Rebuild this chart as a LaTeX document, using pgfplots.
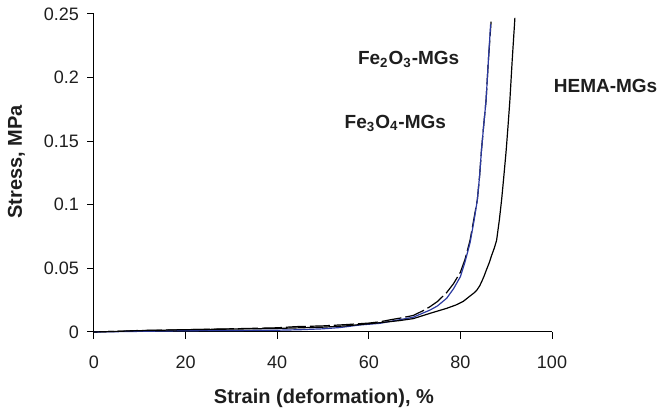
\documentclass[border=0pt]{standalone}
\usepackage{fontspec}
\setmainfont{Liberation Sans}
\usepackage{pgfplots}
\pgfplotsset{compat=1.18}
\definecolor{curveblue}{RGB}{43,57,160}
\definecolor{textgray}{RGB}{30,30,30}

\begin{document}
\begin{tikzpicture}
\path[use as bounding box] (-47pt,-39pt) rectangle (284.5pt,166pt);
\begin{axis}[
  at={(0,0)}, anchor=south west, scale only axis,
  width=229pt, height=159pt,
  xmin=0, xmax=100, ymin=0, ymax=0.25,
  axis lines=left, axis line style={-, black, line width=0.5pt},
  xtick={0,20,...,100}, ytick={0,0.05,...,0.25},
  tick align=outside, major tick length=3.3pt,
  tick style={black, line width=0.5pt},
  clip=false,
  font=\fontsize{9}{10}\selectfont,
  /pgf/number format/assume math mode=true,
  yticklabel style={/pgf/number format/fixed, /pgf/number format/precision=2, anchor=east, inner sep=0pt, xshift=-4pt, text=textgray},
  xticklabel style={anchor=center, inner sep=0pt, yshift=-11.8pt, text=textgray},
  xlabel={\textbf{Strain (deformation), \%}},
  ylabel={\textbf{Stress, MPa}},
  label style={font=\fontsize{10}{12}\selectfont, text=textgray},
  x label style={at={(axis description cs:0.502,0)}, anchor=center, yshift=-33pt},
  y label style={at={(axis description cs:0,0.535)}, anchor=center, yshift=38.8pt},
]
% Fe2O3-MGs (dashed black)
\addplot[black, line width=0.6pt, dash pattern=on 10pt off 2pt] coordinates {
(0,0) (5,0.0005) (10,0.0012) (20,0.0018) (30,0.0025) (40,0.0033) (44,0.0042)
(50,0.0048) (55,0.0058) (60,0.0070) (62.4,0.0080) (65,0.0098) (67,0.0110)
(69.7,0.0130) (72,0.0170) (73.4,0.0200) (75,0.0240) (77,0.0310) (78.5,0.0380)
(80,0.0470) (81,0.0570) (82.1,0.0720) (83,0.0900) (83.7,0.1040) (84.2,0.1230)
(84.6,0.1430) (85.1,0.1630) (85.6,0.1820) (86.1,0.2130) (86.7,0.2440)
};
% Fe3O4-MGs (blue)
\addplot[curveblue, line width=0.6pt] coordinates {
(0,0) (10,0.0005) (20,0.0010) (30,0.0012) (40,0.0014) (45,0.0018) (50,0.0025)
(53.7,0.0035) (58,0.0055) (62.4,0.0068) (66.8,0.0097) (69.7,0.0116)
(73.4,0.0173) (75,0.0205) (77,0.0265) (78.5,0.0340) (80,0.0435) (81,0.0550)
(82.1,0.0700) (83,0.0880) (83.7,0.1040) (84.2,0.1230) (84.6,0.1430)
(85.1,0.1630) (85.6,0.1820) (86.1,0.2130) (86.6,0.2420)
};
% HEMA-MGs (solid black)
\addplot[black, line width=0.6pt] coordinates {
(0,0) (10,0.0010) (20,0.0018) (30,0.0023) (40,0.0028) (50,0.0038) (55,0.0048)
(62.4,0.0073) (66.8,0.0090) (69.7,0.0105) (73.4,0.0147) (77,0.0186)
(79,0.0212) (80.6,0.0240) (82,0.0280) (83,0.0308) (83.6,0.0330) (84.2,0.0362)
(84.7,0.0400) (85.2,0.0442) (85.7,0.0490) (86.3,0.0545) (86.8,0.0600)
(87.4,0.0660) (87.9,0.0720) (88.5,0.0880) (89,0.1040) (89.5,0.1230)
(90,0.1430) (90.4,0.1620) (90.8,0.1820) (91.3,0.2130) (91.9,0.2470)
};
\node[font=\fontsize{9.5}{11}\selectfont\bfseries, text=textgray] at (axis cs:68.7,0.2146) {Fe\textsubscript{2}O\textsubscript{3}-MGs};
\node[font=\fontsize{9.5}{11}\selectfont\bfseries, text=textgray] at (axis cs:65.8,0.1643) {Fe\textsubscript{3}O\textsubscript{4}-MGs};
\node[font=\fontsize{9.5}{11}\selectfont\bfseries, text=textgray] at (axis cs:111.7,0.1934) {HEMA-MGs};
\end{axis}
\end{tikzpicture}
\end{document}
